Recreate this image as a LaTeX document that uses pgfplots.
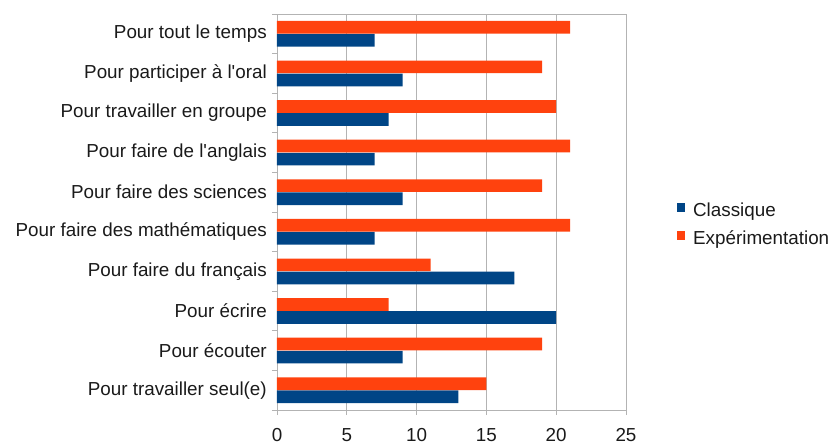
\documentclass[border=0pt]{standalone}
\usepackage{pgfplots}
\pgfplotsset{compat=1.18}
\usepackage{fontspec}
\setmainfont{Liberation Sans}
\definecolor{cblue}{HTML}{004586}
\definecolor{corange}{HTML}{FF420E}
\definecolor{gridg}{HTML}{B3B3B3}
\definecolor{txt}{HTML}{1A1A1A}
\begin{document}
\begin{tikzpicture}
\useasboundingbox (-277bp,-35bp) rectangle (557bp,410bp);
\begin{axis}[
  at={(0,0)}, anchor=south west,
  scale only axis, width=349bp, height=396bp,
  xbar, bar width=0.32,
  xmin=0, xmax=25, ymin=-0.5, ymax=9.5,
  xtick={0,5,...,25},
  ytick={0,...,9},
  yticklabels={Pour travailler seul(e),Pour écouter,Pour écrire,Pour faire du français,Pour faire des mathématiques,Pour faire des sciences,Pour faire de l\textquotesingle anglais,Pour travailler en groupe,Pour participer à l\textquotesingle oral,Pour tout le temps},
  minor ytick={-0.5,0.5,...,9.5},
  major y tick style={draw=none},
  minor y tick style={gridg, line width=0.8pt},
  minor tick length=5bp,
  xtick style={gridg, line width=0.8pt},
  major tick length=5bp,
  tick align=outside, xtick pos=bottom, ytick pos=left,
  xmajorgrids, major grid style={gridg, line width=0.8pt},
  axis line style={gridg, line width=0.8pt},
  tick label style={font=\fontsize{18.9}{22}\selectfont, text=txt},
  /pgf/number format/assume math mode=true,
  yticklabel style={xshift=-1.7bp},
  xticklabel style={yshift=-10bp},
  legend style={at={(1.146,0.467)}, anchor=west, draw=none, fill=none,
    font=\fontsize{18.9}{22}\selectfont, text=txt, row sep=10bp, column sep=8bp, inner sep=0pt,
    nodes={inner sep=0pt, text height=14bp, text depth=4bp}},
  legend cell align=left,
  legend image code/.code={\fill[#1] (0bp,-0.5bp) rectangle (8bp,8.5bp);},
]
\addplot[fill=cblue, draw=none, bar shift=-0.165] coordinates {
  (13,0) (9,1) (20,2) (17,3) (7,4) (9,5) (7,6) (8,7) (9,8) (7,9)};
\addplot[fill=corange, draw=none, bar shift=0.165] coordinates {
  (15,0) (19,1) (8,2) (11,3) (21,4) (19,5) (21,6) (20,7) (19,8) (21,9)};
\legend{Classique, Expérimentation}
\end{axis}
\end{tikzpicture}
\end{document}
